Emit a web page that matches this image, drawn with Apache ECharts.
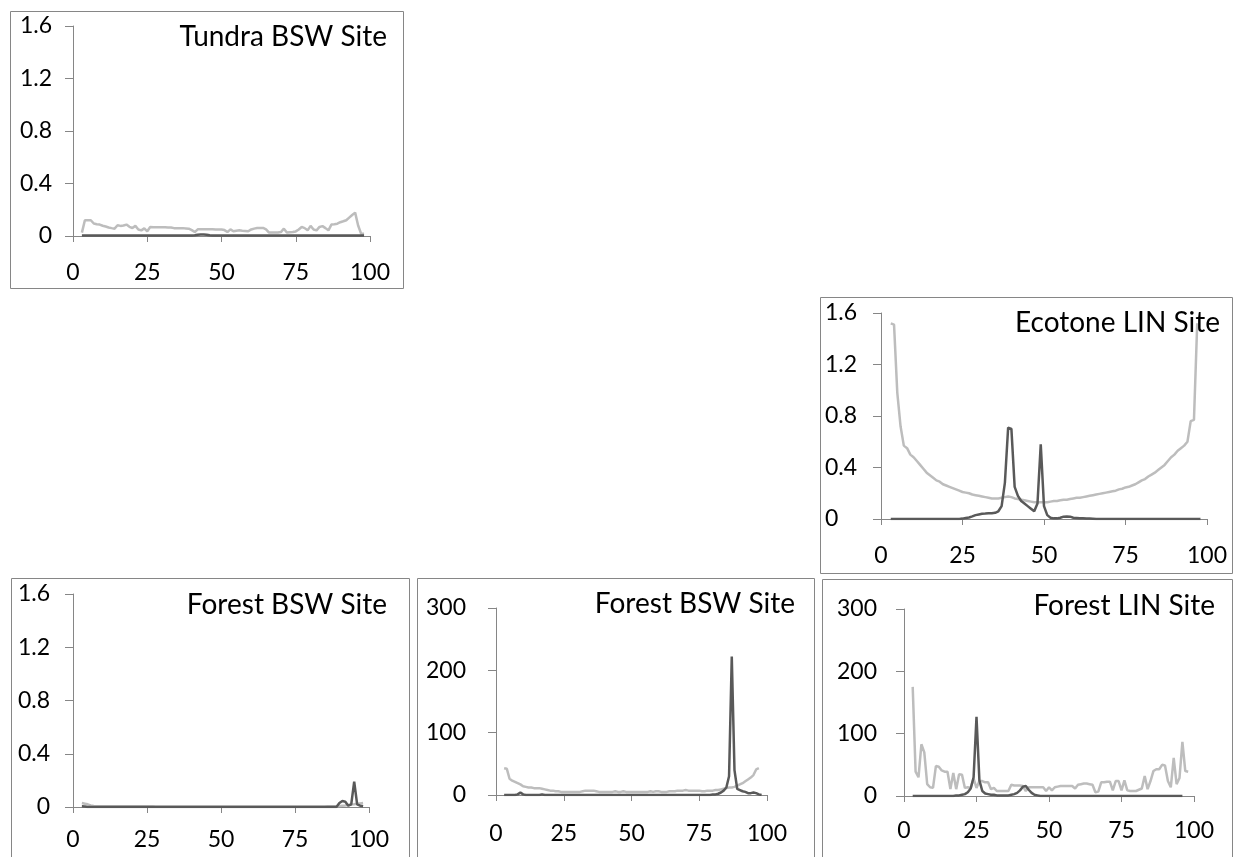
<!DOCTYPE html>
<html>
<head>
<meta charset="utf-8">
<title>Site profiles</title>
<script src="https://cdn.jsdelivr.net/npm/echarts@6/dist/echarts.min.js"></script>
<style>
	html, body { margin: 0; padding: 0; background: #fff; }
	#chart { width: 1233px; height: 857px; }
</style>
</head>
<body>
<div id="chart"></div>
<script>
// x positions (same for every panel)
var xPos = [
	3, 4, 5, 6, 7, 8, 9, 10, 11, 12,
	13, 14, 15, 16, 17, 18, 19, 20, 21, 22,
	23, 24, 25, 26, 27, 28, 29, 30, 31, 32,
	33, 34, 35, 36, 37, 38, 39, 40, 41, 42,
	43, 44, 45, 46, 47, 48, 49, 50, 51, 52,
	53, 54, 55, 56, 57, 58, 59, 60, 61, 62,
	63, 64, 65, 66, 67, 68, 69, 70, 71, 72,
	73, 74, 75, 76, 77, 78, 79, 80, 81, 82,
	83, 84, 85, 86, 87, 88, 89, 90, 91, 92,
	93, 94, 95, 96, 97, 98
];
var xTicks = [0, 25, 50, 75, 100];
var yTicksSmall = [0, 0.4, 0.8, 1.2, 1.6];
var yTicksLarge = [0, 100, 200, 300];

// Tundra BSW Site
var tundraLight = [
	0.026, 0.12, 0.12, 0.12, 0.095, 0.09, 0.087, 0.078, 0.072, 0.065,
	0.06, 0.056, 0.082, 0.077, 0.08, 0.087, 0.07, 0.061, 0.077, 0.05,
	0.043, 0.058, 0.036, 0.069, 0.066, 0.066, 0.066, 0.066, 0.066, 0.065,
	0.065, 0.06, 0.06, 0.06, 0.06, 0.058, 0.056, 0.045, 0.03, 0.051,
	0.051, 0.051, 0.051, 0.051, 0.051, 0.05, 0.05, 0.05, 0.045, 0.03,
	0.05, 0.036, 0.04, 0.043, 0.04, 0.038, 0.036, 0.05, 0.056, 0.061,
	0.061, 0.061, 0.05, 0.026, 0.026, 0.026, 0.026, 0.03, 0.056, 0.026,
	0.028, 0.03, 0.035, 0.05, 0.069, 0.06, 0.043, 0.077, 0.05, 0.043,
	0.069, 0.075, 0.06, 0.043, 0.087, 0.09, 0.094, 0.105, 0.112, 0.12,
	0.14, 0.16, 0.178, 0.08, 0.018, 0.018
];
var tundraDark = [
	0.003, 0.003, 0.003, 0.003, 0.003, 0.003, 0.003, 0.003, 0.003, 0.003,
	0.003, 0.003, 0.003, 0.003, 0.003, 0.003, 0.003, 0.003, 0.003, 0.003,
	0.003, 0.003, 0.003, 0.003, 0.003, 0.003, 0.003, 0.003, 0.003, 0.003,
	0.003, 0.003, 0.003, 0.003, 0.003, 0.003, 0.003, 0.003, 0.005, 0.01,
	0.012, 0.012, 0.01, 0.005, 0.003, 0.003, 0.003, 0.003, 0.003, 0.003,
	0.003, 0.003, 0.003, 0.003, 0.003, 0.003, 0.003, 0.003, 0.003, 0.003,
	0.003, 0.003, 0.003, 0.003, 0.003, 0.003, 0.003, 0.003, 0.003, 0.003,
	0.003, 0.003, 0.003, 0.003, 0.003, 0.003, 0.003, 0.003, 0.003, 0.003,
	0.003, 0.003, 0.003, 0.003, 0.003, 0.003, 0.003, 0.003, 0.003, 0.003,
	0.003, 0.003, 0.003, 0.003, 0.003, 0.003
];

// Ecotone LIN Site
var ecotoneLight = [
	1.52, 1.51, 0.98, 0.72, 0.57, 0.55, 0.50, 0.48, 0.45, 0.42,
	0.39, 0.36, 0.34, 0.32, 0.30, 0.29, 0.27, 0.26, 0.25, 0.24,
	0.23, 0.22, 0.21, 0.205, 0.2, 0.19, 0.185, 0.18, 0.175, 0.17,
	0.165, 0.16, 0.16, 0.16, 0.165, 0.17, 0.175, 0.17, 0.16, 0.155,
	0.15, 0.145, 0.14, 0.135, 0.13, 0.13, 0.13, 0.13, 0.13, 0.135,
	0.14, 0.14, 0.145, 0.15, 0.15, 0.155, 0.16, 0.165, 0.165, 0.17,
	0.175, 0.18, 0.185, 0.19, 0.195, 0.2, 0.205, 0.21, 0.215, 0.22,
	0.23, 0.235, 0.245, 0.25, 0.26, 0.27, 0.285, 0.30, 0.31, 0.33,
	0.345, 0.36, 0.38, 0.40, 0.42, 0.45, 0.48, 0.50, 0.53, 0.55,
	0.57, 0.6, 0.76, 0.77, 1.52, null
];
var ecotoneDark = [
	0, 0, 0, 0, 0, 0, 0, 0, 0, 0,
	0, 0, 0, 0, 0, 0, 0, 0, 0, 0,
	0, 0, 0.003, 0.008, 0.012, 0.02, 0.03, 0.035, 0.04, 0.042,
	0.045, 0.045, 0.048, 0.06, 0.1, 0.28, 0.71, 0.70, 0.25, 0.18,
	0.14, 0.12, 0.1, 0.08, 0.06, 0.12, 0.58, 0.1, 0.03, 0.01,
	0.005, 0.005, 0.01, 0.018, 0.02, 0.018, 0.01, 0.008, 0.006, 0.005,
	0.004, 0.003, 0.002, 0, 0, 0, 0, 0, 0, 0,
	0, 0, 0, 0, 0, 0, 0, 0, 0, 0,
	0, 0, 0, 0, 0, 0, 0, 0, 0, 0,
	0, 0, 0, 0, 0, 0
];

// Forest BSW Site (small scale)
var forestBswLight = [
	0.03, 0.025, 0.02, 0.012, 0.008, 0.005, 0.005, 0.005, 0.005, 0.005,
	0.005, 0.005, 0.005, 0.005, 0.005, 0.005, 0.005, 0.005, 0.005, 0.005,
	0.005, 0.005, 0.005, 0.006, 0.005, 0.004, 0.003, 0.003, 0.003, 0.003,
	0.003, 0.003, 0.003, 0.003, 0.003, 0.003, 0.003, 0.003, 0.003, 0.003,
	0.003, 0.003, 0.003, 0.003, 0.003, 0.003, 0.003, 0.003, 0.003, 0.003,
	0.003, 0.003, 0.003, 0.003, 0.003, 0.003, 0.003, 0.003, 0.003, 0.003,
	0.003, 0.003, 0.003, 0.003, 0.003, 0.003, 0.003, 0.003, 0.003, 0.003,
	0.003, 0.003, 0.003, 0.004, 0.004, 0.004, 0.004, 0.004, 0.004, 0.004,
	0.004, 0.004, 0.004, 0.005, 0.005, 0.005, 0.006, 0.008, 0.01, 0.012,
	0.015, 0.018, 0.02, 0.024, 0.027, 0.03
];
var forestBswDark = [
	0.005, 0.004, 0, 0, 0, 0, 0, 0, 0, 0,
	0, 0, 0, 0, 0, 0, 0, 0, 0, 0,
	0, 0, 0, 0, 0, 0, 0, 0, 0, 0,
	0, 0, 0, 0, 0, 0, 0, 0, 0, 0,
	0, 0, 0, 0, 0, 0, 0, 0, 0, 0,
	0, 0, 0, 0, 0, 0, 0, 0, 0, 0,
	0, 0, 0, 0, 0, 0, 0, 0, 0, 0,
	0, 0, 0, 0, 0, 0, 0, 0, 0, 0,
	0, 0, 0, 0, 0, 0, 0, 0.03, 0.045, 0.04,
	0.01, 0.02, 0.19, 0.02, 0.01, 0.005
];

// Forest BSW Site (large scale)
var forestBswMidLight = [
	43, 42, 26, 23, 21, 19, 17, 14, 13, 12,
	12, 11, 11, 11, 10, 9, 8, 7, 7, 6,
	6, 5, 5, 5, 5, 5, 5, 5, 5, 6,
	7, 7, 7, 7, 6, 5, 5, 5, 5, 5,
	5, 6, 5, 5, 6, 5, 5, 5, 5, 5,
	5, 5, 5, 5, 6, 5, 6, 6, 5, 5,
	5, 6, 6, 6, 7, 7, 7, 8, 7, 7,
	7, 7, 7, 6, 6, 7, 7, 7, 8, 8,
	9, 10, 11, 12, 12, 13, 15, 17, 19, 22,
	25, 28, 32, 41, 43, null
];
var forestBswMidDark = [
	0, 0, 0, 0, 0, 1, 4, 1, 0, 0,
	0, 0, 0, 0, 1, 0, 0, 0, 0, 0,
	0, 0, 0, 0, 0, 0, 0, 0, 0, 0,
	0, 0, 0, 0, 0, 0, 0, 0, 0, 0,
	0, 0, 0, 0, 0, 0, 0, 0, 0, 0,
	0, 0, 0, 0, 0, 0, 0, 0, 0, 0,
	0, 0, 0, 0, 0, 0, 0, 0, 0, 0,
	0, 0, 0, 0, 0, 0, 0, 1, 1, 2,
	4, 7, 12, 30, 222, 40, 10, 8, 6, 5,
	3, 3, 4, 3, 1, 0
];

// Forest LIN Site
var forestLinLight = [
	175, 39, 30, 83, 70, 19, 14, 13, 48, 47,
	41, 39, 39, 11, 37, 11, 35, 34, 13, 14,
	13, 28, 13, 24, 24, 22, 22, 11, 13, 8,
	8, 8, 8, 8, 18, 17, 17, 17, 16, 8,
	14, 14, 14, 14, 14, 14, 8, 14, 9, 14,
	15, 16, 16, 16, 16, 16, 12, 18, 19, 20,
	20, 19, 18, 6, 7, 22, 22, 23, 23, 9,
	24, 24, 9, 25, 9, 8, 8, 8, 10, 12,
	32, 11, 24, 40, 43, 43, 50, 49, 24, 14,
	61, 19, 29, 87, 40, 39
];
var forestLinDark = [
	0, 0, 0, 0, 0, 0, 0, 0, 0, 0,
	0, 0, 0, 0, 0, 1, 1, 2, 3, 6,
	12, 30, 127, 25, 8, 4, 3, 2, 2, 1,
	1, 1, 1, 1, 2, 3, 5, 9, 15, 16,
	10, 5, 2, 1, 0, 0, 0, 0, 0, 0,
	0, 0, 0, 0, 0, 0, 0, 0, 0, 0,
	0, 0, 0, 0, 0, 0, 0, 0, 0, 0,
	0, 0, 0, 0, 0, 0, 0, 0, 0, 0,
	0, 0, 0, 0, 0, 0, 0, 0, 0, 0,
	0, 0, 0, 0, null, null
];

var AXIS_COLOR = '#868686';
var DARK = '#595959';
var LIGHT = '#bdbdbd';
var FONT = 'Lato';

// panel layout: box = outer frame, plot = [x0, yTop, x100, y0]
var panels = [
	{ title: 'Tundra BSW Site', box: [10, 11, 403, 288], plot: [73, 26, 370, 236], ticks: yTicksSmall,
		yMargin: 21, yAlign: 'right', xMargin: 25, titleRight: 846, titleTop: 23, light: tundraLight, dark: tundraDark },
	{ title: 'Ecotone LIN Site', box: [820, 297, 1232, 573], plot: [881, 313, 1207, 519], ticks: yTicksSmall,
		yMargin: 56, yAlign: 'left', xMargin: 25, titleRight: 13, titleTop: 309, light: ecotoneLight, dark: ecotoneDark },
	{ title: 'Forest BSW Site', box: [11, 578, 409, 870], plot: [73, 594, 369, 807], ticks: yTicksSmall,
		yMargin: 23, yAlign: 'right', xMargin: 21, titleRight: 846, titleTop: 591, light: forestBswLight, dark: forestBswDark },
	{ title: 'Forest BSW Site', box: [417, 578, 814, 870], plot: [496, 608, 767, 795], ticks: yTicksLarge,
		yMargin: 30, yAlign: 'right', xMargin: 27, titleRight: 438, titleTop: 590, light: forestBswMidLight, dark: forestBswMidDark },
	{ title: 'Forest LIN Site', box: [822, 579, 1232, 870], plot: [904, 609, 1194, 796], ticks: yTicksLarge,
		yMargin: 27, yAlign: 'right', xMargin: 23, titleRight: 18, titleTop: 592, light: forestLinLight, dark: forestLinDark }
];

function pairs(vals) {
	return xPos.map(function(x, i) { return [x, vals[i]]; });
}

var option = {
	animation: false,
	backgroundColor: '#fff',
	title: [],
	grid: [],
	xAxis: [],
	yAxis: [],
	series: [],
	graphic: []
};

panels.forEach(function(p, i) {
	var ticks = p.ticks;
	var yMax = ticks[ticks.length - 1];
	//外框
	option.graphic.push({
		type: 'rect',
		shape: { x: p.box[0] + 0.5, y: p.box[1] + 0.5, width: p.box[2] - p.box[0], height: p.box[3] - p.box[1] },
		style: { fill: null, stroke: AXIS_COLOR, lineWidth: 1 },
		silent: true
	});
	option.title.push({
		text: p.title,
		right: p.titleRight,
		top: p.titleTop,
		padding: 0,
		textStyle: { fontFamily: FONT, fontSize: 28, fontWeight: 'normal', color: '#000', lineHeight: 28 }
	});
	option.grid.push({
		left: p.plot[0],
		top: p.plot[1],
		width: p.plot[2] - p.plot[0],
		height: p.plot[3] - p.plot[1],
		outerBoundsMode: 'none',
		containLabel: false
	});
	option.xAxis.push({
		type: 'value', gridIndex: i,
		min: xTicks[0], max: xTicks[xTicks.length - 1], interval: xTicks[1] - xTicks[0],
		axisLine: { show: true, onZero: false, lineStyle: { color: AXIS_COLOR, width: 1 } },
		axisTick: { show: true, inside: false, length: 6, lineStyle: { color: AXIS_COLOR } },
		axisLabel: { show: true, margin: p.xMargin, color: '#000', fontFamily: FONT, fontSize: 23,
			showMinLabel: true, showMaxLabel: true, hideOverlap: false },
		splitLine: { show: false }
	});
	option.yAxis.push({
		type: 'value', gridIndex: i,
		min: 0, max: yMax, interval: ticks[1] - ticks[0],
		axisLine: { show: true, onZero: false, lineStyle: { color: AXIS_COLOR, width: 1 } },
		axisTick: { show: true, inside: false, length: 8, lineStyle: { color: AXIS_COLOR } },
		axisLabel: { show: true, margin: p.yMargin, align: p.yAlign, color: '#000', fontFamily: FONT, fontSize: 23,
			showMinLabel: true, showMaxLabel: true, hideOverlap: false },
		splitLine: { show: false }
	});
	option.series.push({
		type: 'line', xAxisIndex: i, yAxisIndex: i,
		data: pairs(p.dark), showSymbol: false, symbol: 'none', connectNulls: false,
		lineStyle: { color: DARK, width: 2.5 }, z: 3
	});
	option.series.push({
		type: 'line', xAxisIndex: i, yAxisIndex: i,
		data: pairs(p.light), showSymbol: false, symbol: 'none', connectNulls: false,
		lineStyle: { color: LIGHT, width: 2.5 }, z: 2
	});
});

var myChart = echarts.init(document.getElementById('chart'), null, { renderer: 'canvas' });
myChart.setOption(option);
</script>
</body>
</html>
